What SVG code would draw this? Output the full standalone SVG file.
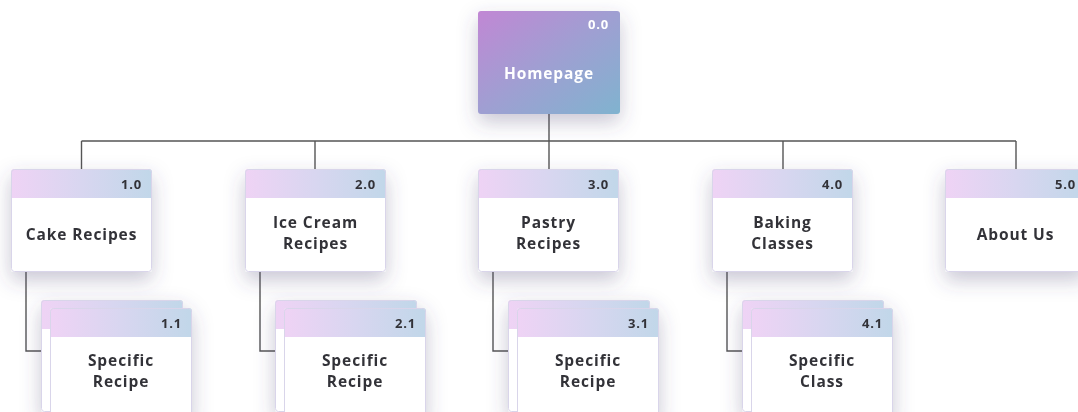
<svg xmlns="http://www.w3.org/2000/svg" width="1078" height="412" viewBox="0 0 1078 412">
  <defs>
    <linearGradient id="gradRoot" x1="0" y1="0" x2="1" y2="1">
      <stop offset="0" stop-color="#c187d4"/>
      <stop offset="0.5" stop-color="#9f9fd2"/>
      <stop offset="1" stop-color="#80b3cf"/>
    </linearGradient>
    <linearGradient id="gradHead" x1="0" y1="0" x2="1" y2="0">
      <stop offset="0" stop-color="#efd3f5"/>
      <stop offset="0.5" stop-color="#d8d6f0"/>
      <stop offset="1" stop-color="#c1d7e9"/>
    </linearGradient>
    <filter id="shadow" x="-35%" y="-35%" width="170%" height="180%">
      <feGaussianBlur in="SourceAlpha" stdDeviation="10"/>
      <feOffset dy="8" result="b"/>
      <feFlood flood-color="#4a4370" flood-opacity="0.3"/>
      <feComposite in2="b" operator="in"/>
      <feMerge>
        <feMergeNode/>
        <feMergeNode in="SourceGraphic"/>
      </feMerge>
    </filter>
    <!-- card with gradient header strip -->
    <symbol id="card1" overflow="visible">
      <rect x="0" y="0" width="141" height="103" rx="3" fill="#ffffff"/>
      <path d="M0,29 V3 A3,3 0 0 1 3,0 H138 A3,3 0 0 1 141,3 V29 Z" fill="url(#gradHead)"/>
      <rect x="0.5" y="0.5" width="140" height="102" rx="3" fill="none" stroke="#d9d5ea" stroke-width="1"/>
    </symbol>
    <symbol id="card2" overflow="visible">
      <rect x="0" y="0" width="142" height="112" rx="3" fill="#ffffff"/>
      <path d="M0,29 V3 A3,3 0 0 1 3,0 H139 A3,3 0 0 1 142,3 V29 Z" fill="url(#gradHead)"/>
      <rect x="0.5" y="0.5" width="141" height="111" rx="3" fill="none" stroke="#d9d5ea" stroke-width="1"/>
    </symbol>
  </defs>
  <style>
    .lbl { font-family: "Open Sans", "Liberation Sans", sans-serif; font-weight: 700; font-size: 15.5px; letter-spacing: 0.9px; fill: #333338; text-anchor: middle; }
    .num { font-family: "Open Sans", "Liberation Sans", sans-serif; font-weight: 700; font-size: 13px; letter-spacing: 0.8px; fill: #333338; text-anchor: end; }
    .root { fill: #ffffff; }
    .wire { fill: none; stroke: #555555; stroke-width: 1.4; }
  </style>

  <rect width="1078" height="412" fill="#ffffff"/>

  <!-- connectors -->
  <g id="connectors" class="wire">
    <path d="M549,114 V141"/>
    <path d="M81.5,141 H1016"/>
    <path d="M81.5,141 V169"/>
    <path d="M315,141 V169"/>
    <path d="M549,141 V169"/>
    <path d="M783,141 V169"/>
    <path d="M1016,141 V169"/>
    <path d="M26,272 V351 H41"/>
    <path d="M260,272 V351 H275"/>
    <path d="M493,272 V351 H508"/>
    <path d="M727,272 V351 H742"/>
  </g>

  <!-- root -->
  <g id="node-0-0" filter="url(#shadow)">
    <rect x="478" y="11" width="142" height="103" rx="3" fill="url(#gradRoot)"/>
    <text class="num root" x="609" y="29">0.0</text>
    <text class="lbl root" x="549" y="79">Homepage</text>
  </g>

  <!-- level 1 -->
  <g id="node-1-0" filter="url(#shadow)">
    <use href="#card1" x="11" y="169"/>
    <text class="num" x="142" y="189">1.0</text>
    <text class="lbl" x="81.5" y="240">Cake Recipes</text>
  </g>
  <g id="node-2-0" filter="url(#shadow)">
    <use href="#card1" x="245" y="169"/>
    <text class="num" x="376" y="189">2.0</text>
    <text class="lbl" x="315.5" y="228">Ice Cream</text>
    <text class="lbl" x="315.5" y="249">Recipes</text>
  </g>
  <g id="node-3-0" filter="url(#shadow)">
    <use href="#card1" x="478" y="169"/>
    <text class="num" x="609" y="189">3.0</text>
    <text class="lbl" x="548.5" y="228">Pastry</text>
    <text class="lbl" x="548.5" y="249">Recipes</text>
  </g>
  <g id="node-4-0" filter="url(#shadow)">
    <use href="#card1" x="712" y="169"/>
    <text class="num" x="843" y="189">4.0</text>
    <text class="lbl" x="782.5" y="228">Baking</text>
    <text class="lbl" x="782.5" y="249">Classes</text>
  </g>
  <g id="node-5-0" filter="url(#shadow)">
    <use href="#card1" x="945" y="169"/>
    <text class="num" x="1076" y="189">5.0</text>
    <text class="lbl" x="1015.5" y="240">About Us</text>
  </g>

  <!-- level 2 (stacked cards) -->
  <g id="node-1-1" filter="url(#shadow)">
    <use href="#card2" x="41" y="300"/>
    <use href="#card2" x="50" y="308"/>
    <text class="num" x="182" y="328">1.1</text>
    <text class="lbl" x="121" y="366">Specific</text>
    <text class="lbl" x="121" y="387">Recipe</text>
  </g>
  <g id="node-2-1" filter="url(#shadow)">
    <use href="#card2" x="275" y="300"/>
    <use href="#card2" x="284" y="308"/>
    <text class="num" x="416" y="328">2.1</text>
    <text class="lbl" x="355" y="366">Specific</text>
    <text class="lbl" x="355" y="387">Recipe</text>
  </g>
  <g id="node-3-1" filter="url(#shadow)">
    <use href="#card2" x="508" y="300"/>
    <use href="#card2" x="517" y="308"/>
    <text class="num" x="649" y="328">3.1</text>
    <text class="lbl" x="588" y="366">Specific</text>
    <text class="lbl" x="588" y="387">Recipe</text>
  </g>
  <g id="node-4-1" filter="url(#shadow)">
    <use href="#card2" x="742" y="300"/>
    <use href="#card2" x="751" y="308"/>
    <text class="num" x="883" y="328">4.1</text>
    <text class="lbl" x="822" y="366">Specific</text>
    <text class="lbl" x="822" y="387">Class</text>
  </g>
</svg>
